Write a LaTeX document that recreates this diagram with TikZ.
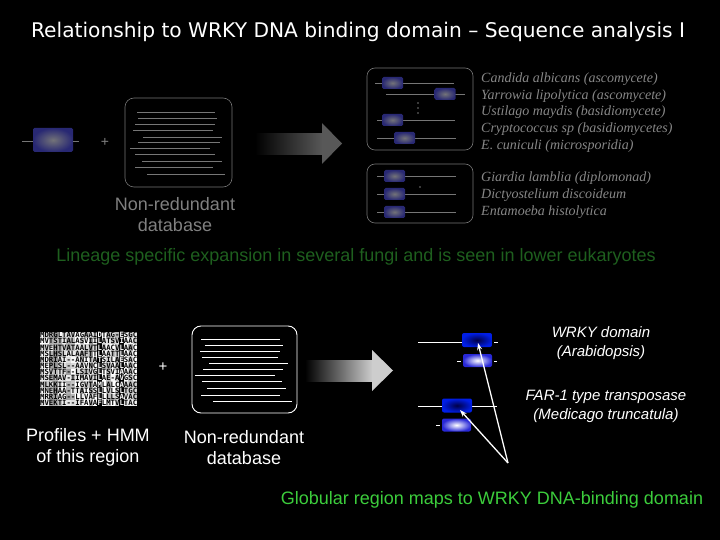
\documentclass[tikz,border=0pt]{standalone}
\usepackage{fontspec}
\setmainfont{Liberation Sans}
\newfontfamily\titlefont{DejaVu Sans}
\newfontfamily\spfont{Liberation Serif}
\newfontfamily\alnfont{DejaVu Sans Mono}
\usetikzlibrary{arrows.meta}
\definecolor{dimgray}{RGB}{118,118,118}
\definecolor{dimtext}{RGB}{128,128,128}
\definecolor{sptext}{RGB}{135,135,135}
\definecolor{dimgreen}{RGB}{30,95,30}
\definecolor{brightgreen}{RGB}{60,205,60}
\definecolor{dimblue}{RGB}{40,40,115}
\definecolor{dimcore}{RGB}{115,115,120}
\definecolor{arrowdim}{RGB}{88,88,88}
\definecolor{arrowlight}{RGB}{205,205,205}
\definecolor{domblue}{RGB}{0,30,230}
\definecolor{domcore}{RGB}{0,0,70}
\definecolor{lightedge}{RGB}{40,40,215}
\begin{document}
\begin{tikzpicture}[x=1pt,y=-1pt,
  dimdom/.style={rectangle, rounded corners=1.5pt, minimum width=21pt, minimum height=12pt, inner sep=0pt, shading=radial, inner color=dimcore, outer color=dimblue},
  darkdom/.style={rectangle, rounded corners=2pt, minimum width=30pt, minimum height=14pt, inner sep=0pt, shading=radial, inner color=domcore, outer color=domblue},
  lightdom/.style={rectangle, rounded corners=2pt, minimum width=29pt, minimum height=13pt, inner sep=0pt, shading=radial, inner color=white, outer color=lightedge},
  dimline/.style={draw=dimgray, line width=0.6pt},
  wline/.style={draw=white, line width=0.9pt},
  dbbox/.style={rectangle, rounded corners=9pt, inner sep=0pt},
  sp/.style={anchor=west, inner sep=0pt, text=sptext, font=\spfont\itshape\fontsize{14}{14}\selectfont},
  lbl/.style={align=center, inner sep=0pt, font=\fontsize{18}{21}\selectfont},
  rlbl/.style={align=center, inner sep=0pt, text=white, font=\itshape\fontsize{15}{19}\selectfont},
  alntxt/.style={inner sep=0pt, anchor=west, font=\alnfont\bfseries\fontsize{7.3}{7.3}\selectfont},
  ptr/.style={draw=white, line width=1.3pt, -{Stealth[length=7pt,width=5pt]}}
]
\useasboundingbox (0,0) rectangle (720,540);
\fill[black] (0,0) rectangle (720,540);

% title
\node[text=white, inner sep=0pt, font=\titlefont\fontsize{20.2}{22}\selectfont] (title) at (358,32) {Relationship to WRKY DNA binding domain – Sequence analysis I};

% ---------- top section (dimmed) ----------
\draw[dimline] (22,141) -- (33,141);
\node[dimdom, minimum width=40pt, minimum height=24pt] (qdom) at (53,140) {};
\draw[dimline] (73,141) -- (79,141);
\node[text=dimtext, inner sep=0pt, font=\fontsize{14}{14}\selectfont] (plus1) at (105,142) {+};

\node[dbbox, draw=dimgray, line width=0.6pt, minimum width=107pt, minimum height=89pt] (db1) at (178.5,142.5) {};
\foreach \y/\a/\b in {112/137/215, 118/138/217, 124/135/215, 130/133/213, 137/143/222, 142/138/220, 148/130/210, 154/135/215, 161/142/222, 167/135/213, 174/147/225}
  \draw[dimline] (\a,\y) -- (\b,\y);
\node[lbl, text=dimtext] (db1lbl) at (175,214.5) {Non-redundant\\database};

\shade[left color=black, right color=arrowdim] (255,134) rectangle (322.5,155);
\fill[arrowdim] (322,123) -- (342,143.5) -- (322,164) -- cycle;

\node[dbbox, draw=dimgray, line width=0.6pt, rounded corners=8pt, minimum width=106pt, minimum height=82pt] (grp1) at (420,109) {};
\draw[dimline] (375,83) -- (454,83);
\node[dimdom] (d1) at (392.5,83) {};
\draw[dimline] (386,94) -- (465,94);
\node[dimdom] (d2) at (445,94) {};
\foreach \y in {103,108,113} \fill[dimgray] (418,\y) circle (0.9);
\draw[dimline] (377,120) -- (455,120);
\node[dimdom] (d3) at (392.5,120) {};
\draw[dimline] (377,138) -- (456,138);
\node[dimdom] (d4) at (404.5,138) {};

\node[dbbox, draw=dimgray, line width=0.6pt, rounded corners=8pt, minimum width=106pt, minimum height=59pt] (grp2) at (420,193.5) {};
\foreach \y/\n in {176/e1,194/e2,212/e3}{
  \draw[dimline] (377,\y) -- (456,\y);
  \node[dimdom] (\n) at (394.5,\y) {};
}
\fill[dimgray] (420,187) circle (0.8);

\node[sp] (sp1) at (481,79) {Candida albicans (ascomycete)};
\node[sp] (sp2) at (481,96) {Yarrowia lipolytica (ascomycete)};
\node[sp] (sp3) at (481,112.5) {Ustilago maydis (basidiomycete)};
\node[sp] (sp4) at (481,129.5) {Cryptococcus sp (basidiomycetes)};
\node[sp] (sp5) at (481,146) {E. cuniculi (microsporidia)};
\node[sp] (sp6) at (481,178) {Giardia lamblia (diplomonad)};
\node[sp] (sp7) at (481,195) {Dictyostelium discoideum};
\node[sp] (sp8) at (481,212) {Entamoeba histolytica};

\node[text=dimgreen, inner sep=0pt, font=\fontsize{18}{18}\selectfont] (lin) at (356,257) {Lineage specific expansion in several fungi and is seen in lower eukaryotes};

% ---------- bottom section ----------
% alignment picture
\pgfmathsetseed{11}
\foreach \b [count=\c] in {96,90,78,70,85,94,80,88,98,82,90,76,95,3,98,84,90,80,3,96,86,92}{
  \foreach \r in {1,...,12}{
    \pgfmathtruncatemacro\v{max(0,min(100,\b+36*(rnd-0.5)))}
    \fill[white!\v!black] ({40+(\c-1)*4.41},{332+(\r-1)*6.17}) rectangle ({40+\c*4.41},{332+\r*6.17});
  }
}
\foreach \sa/\p/\sb/\q/\sc [count=\r] in {
  MDRGLTAVAGAAI/D/TAG-/E/SGC, MVTSTIALASVII/L/ATSV/I/AAC, MVEHTVATAALVT/L/AACV/L/AAC,
  MSLHSLALAAFTT/L/AATT/L/AAC, MDRIAI--ANITA/T/SILA/E/SAC, MEPLSL--AAVNC/L/SVAA/L/AAC,
  MSVTTF--LSIVG/L/TSVI/A/AAC, MSEMAV-IIMAVI/L/AE-A/V/GSC, MLKKII--IGVTA/M/LALC/A/AAC,
  MNEHAA-TTAISS/L/LVLS/L/TGC, MRRIAG--LLVAF/L/LLLS/A/VAC, MVEKTI--IFAVA/F/LMTV/L/TAC}{
  \node[alntxt, text=black] (ala\r) at (40,{332+(\r-0.5)*6.17}) {\sa};
  \node[alntxt, text=white] (alp\r) at ({40+13*4.41},{332+(\r-0.5)*6.17}) {\p};
  \node[alntxt, text=black] (alb\r) at ({40+14*4.41},{332+(\r-0.5)*6.17}) {\sb};
  \node[alntxt, text=white] (alq\r) at ({40+18*4.41},{332+(\r-0.5)*6.17}) {\q};
  \node[alntxt, text=black] (alc\r) at ({40+19*4.41},{332+(\r-0.5)*6.17}) {\sc};
}

\node[text=white, inner sep=0pt, font=\fontsize{15}{15}\selectfont] (plus2) at (163,367) {+};

\node[dbbox, draw=white, line width=0.9pt, minimum width=105pt, minimum height=87pt] (db2) at (244.5,369.5) {};
\foreach \y/\a/\b in {339/201/280, 345/205/283, 351/200/280, 357/202/278, 363/209/288, 369/203/283, 375/195/275, 381/202/282, 388/207/286, 395/201/280, 401/213/292}
  \draw[wline] (\a,\y) -- (\b,\y);

\node[lbl, text=white] (prof) at (88,447.5) {Profiles + HMM\\of this region};
\node[lbl, text=white] (db2lbl) at (244,448) {Non-redundant\\database};

\shade[left color=black, right color=arrowlight] (305,360) rectangle (372.5,381);
\fill[arrowlight] (372,350) -- (393,370.5) -- (372,391) -- cycle;

\draw[wline] (418,342) -- (462,342);
\node[darkdom] (wA) at (477,340) {};
\draw[wline] (494,342) -- (498,342);
\draw[wline] (457,361) -- (461,361);
\node[lightdom] (lA) at (477.5,360.5) {};
\draw[wline] (494,361) -- (497,361);

\draw[wline] (418,406) -- (497,406);
\node[darkdom] (wB) at (457,405.5) {};
\draw[wline] (436,425) -- (440,425);
\node[lightdom] (lB) at (456.5,425) {};

\coordinate (src) at (508,463);
\draw[ptr] (src) -- ([shift={(1,3)}]wA.center);
\draw[ptr] (src) -- ([shift={(3,4.5)}]wB.center);

\node[rlbl] (wrky) at (601,343) {WRKY domain\\(Arabidopsis)};
\node[rlbl] (far) at (606,406.5) {FAR-1 type transposase\\(Medicago truncatula)};

\node[text=brightgreen, inner sep=0pt, font=\fontsize{18}{18}\selectfont] (glob) at (492,500) {Globular region maps to WRKY DNA-binding domain};
\end{tikzpicture}
\end{document}
